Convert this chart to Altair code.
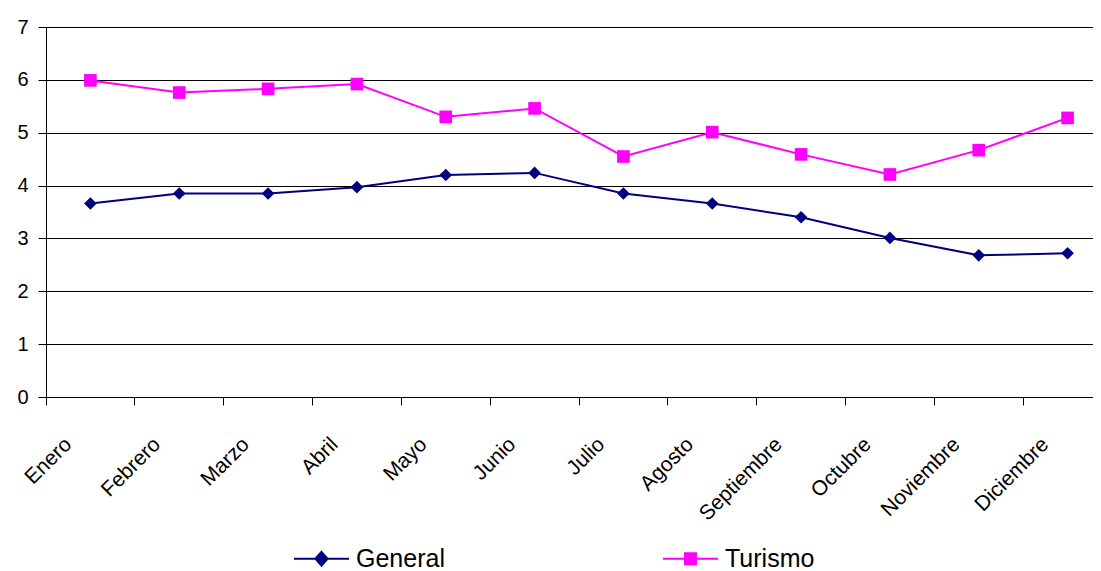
import altair as alt
import pandas as pd

months = ["Enero", "Febrero", "Marzo", "Abril", "Mayo", "Junio", "Julio",
          "Agosto", "Septiembre", "Octubre", "Noviembre", "Diciembre"]
general = [3.66, 3.85, 3.85, 3.97, 4.20, 4.24, 3.85, 3.66, 3.40, 3.01, 2.68, 2.72]
turismo = [5.99, 5.76, 5.83, 5.92, 5.30, 5.46, 4.55, 5.01, 4.59, 4.21, 4.67, 5.28]
series = ["General", "Turismo"]
colors = ["#000080", "#FF00FF"]
shapes = ["diamond", "square"]

rows = []
for m, g, t in zip(months, general, turismo):
    rows.append({"mes": m, "serie": "General", "valor": g})
    rows.append({"mes": m, "serie": "Turismo", "valor": t})
df = pd.DataFrame(rows)

# legend-only rows (placed below the axis range and clipped away)
df_leg = pd.DataFrame({"mes": ["Enero", "Enero"], "serie": series, "valor": [-1, -1]})

FONT = "Liberation Sans"

diamond_path = "M-1,0L1,0M0,-0.25L0.22,0L0,0.25L-0.22,0Z"
square_path = "M-1,0L1,0M-0.2,-0.2L0.2,-0.2L0.2,0.2L-0.2,0.2Z"

legend = alt.Legend(
    title=None,
    orient="none",
    direction="horizontal",
    legendX=247,
    legendY=503,
    symbolSize=3025,
    symbolStrokeWidth=2,
    labelFont=FONT,
    labelFontSize=25,
    labelColor="#000000",
    labelOffset=6,
    columnPadding=214,
    padding=0,
)

x_enc = alt.X(
    "mes:N",
    sort=months,
    scale=alt.Scale(type="band", paddingInner=0, paddingOuter=0),
    axis=alt.Axis(
        title=None,
        bandPosition=0,
        labelAngle=-45,
        labelAlign="right",
        labelBaseline="middle",
        labelOffset=-22,
        labelPadding=36,
        labelFont=FONT,
        labelFontSize=21,
        labelColor="#000000",
        tickSize=8,
        tickColor="#000000",
        domainColor="#000000",
        grid=False,
    ),
)
y_enc = alt.Y(
    "valor:Q",
    scale=alt.Scale(domain=[0, 7], nice=False, zero=True),
    axis=alt.Axis(
        title=None,
        values=[0, 1, 2, 3, 4, 5, 6, 7],
        labelFont=FONT,
        labelFontSize=20,
        labelColor="#000000",
        labelPadding=10,
        tickSize=8,
        tickColor="#000000",
        domainColor="#000000",
        grid=True,
        gridColor="#000000",
        gridOpacity=1,
        gridWidth=1,
    ),
)

layers = []
for s, c, shp in zip(series, colors, shapes):
    base = alt.Chart(df).transform_filter(alt.datum.serie == s)
    layers.append(base.mark_line(strokeWidth=2, color=c).encode(x=x_enc, y=y_enc))
for s, c, shp in zip(series, colors, shapes):
    base = alt.Chart(df).transform_filter(alt.datum.serie == s)
    layers.append(
        base.mark_point(filled=True, opacity=1, size=160, shape=shp, color=c).encode(x=x_enc, y=y_enc)
    )

legend_layer = alt.Chart(df_leg).mark_point(filled=True, opacity=1, strokeWidth=2, clip=True).encode(
    x=x_enc,
    y=y_enc,
    fill=alt.Fill("serie:N", scale=alt.Scale(domain=series, range=colors), legend=legend),
    stroke=alt.Stroke("serie:N", scale=alt.Scale(domain=series, range=colors), legend=legend),
    shape=alt.Shape("serie:N", scale=alt.Scale(domain=series, range=[diamond_path, square_path]), legend=legend),
)
layers.append(legend_layer)

chart = (
    alt.layer(*layers)
    .properties(
        width=1066,
        height=370,
        autosize=alt.AutoSizeParams(type="none"),
        padding={"left": 38, "top": 19, "right": -19, "bottom": 174},
        background="#ffffff",
    )
    .configure_view(strokeOpacity=0)
)

chart.save("out.html", embed_options={"renderer": "svg", "actions": False})
